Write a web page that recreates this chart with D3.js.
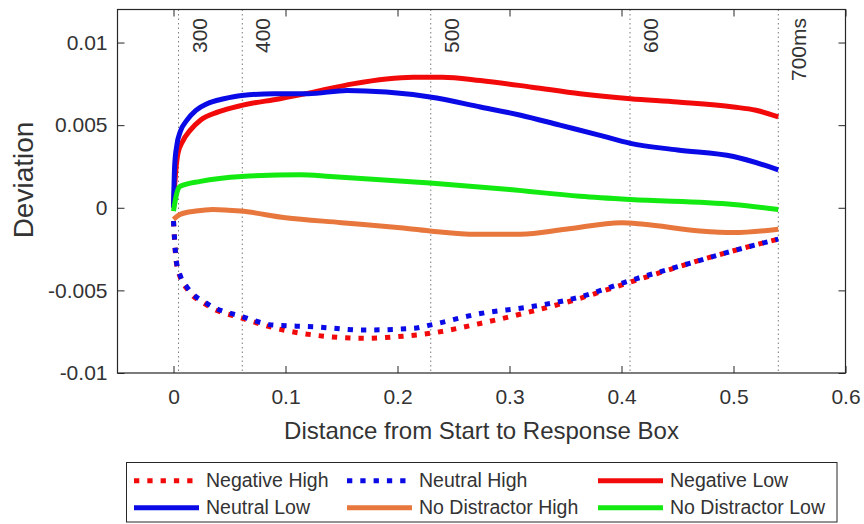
<!DOCTYPE html>
<html>
<head>
<meta charset="utf-8">
<script src="https://cdn.jsdelivr.net/npm/d3@7"></script>
<style>
  html, body { margin: 0; padding: 0; background: #fff; }
  svg { display: block; font-family: "Liberation Sans", Arial, Helvetica, sans-serif; }
</style>
</head>
<body>
<svg id="chart" width="864" height="524"></svg>
<script>
// Trajectory deviation along the path from start to response box
const xTicks = [0, 0.1, 0.2, 0.3, 0.4, 0.5, 0.6];
const yTicks = [-0.01, -0.005, 0, 0.005, 0.01];
const yTickLabels = ["-0.01", "-0.005", "0", "0.005", "0.01"];

// Time markers (ms) and where they fall along the path
const timeMarkX = [0.0045, 0.0614, 0.2297, 0.4076, 0.540];
const timeMarkLabels = ["300", "400", "500", "600", "700ms"];

// [distance, deviation] pairs per condition
const negativeHigh = [[0,-0.0008],[0.0025,-0.0033],[0.006,-0.0042],[0.012,-0.0049],[0.03,-0.0059],[0.062,-0.0067],[0.098,-0.0074],[0.125,-0.0077],[0.17,-0.0079],[0.2,-0.0078],[0.229,-0.0076],[0.274,-0.0070],[0.318,-0.0063],[0.357,-0.0056],[0.408,-0.0045],[0.464,-0.0033],[0.5,-0.0026],[0.54,-0.0019]];
const neutralHigh = [[0,-0.0008],[0.0025,-0.0032],[0.006,-0.0041],[0.012,-0.0048],[0.03,-0.0058],[0.062,-0.0066],[0.089,-0.0071],[0.125,-0.0072],[0.17,-0.0074],[0.214,-0.0073],[0.229,-0.0071],[0.274,-0.0064],[0.318,-0.0060],[0.357,-0.0055],[0.408,-0.0044],[0.464,-0.0033],[0.5,-0.0026],[0.54,-0.0019]];
const negativeLow = [[0,0.0002],[0.002,0.0022],[0.004,0.0033],[0.008,0.0040],[0.015,0.0047],[0.024,0.0053],[0.04,0.0058],[0.061,0.0062],[0.095,0.0066],[0.125,0.0070],[0.16,0.0075],[0.19,0.0078],[0.214,0.0079],[0.24,0.0079],[0.274,0.0077],[0.32,0.0073],[0.363,0.0069],[0.408,0.0066],[0.45,0.0064],[0.5,0.0061],[0.52,0.0059],[0.54,0.0055]];
const neutralLow = [[0,0.0000],[0.001,0.0025],[0.003,0.0038],[0.006,0.0046],[0.012,0.0053],[0.02,0.0059],[0.03,0.0063],[0.045,0.0066],[0.061,0.0068],[0.09,0.0069],[0.12,0.0069],[0.155,0.0071],[0.19,0.0070],[0.229,0.0067],[0.274,0.0061],[0.31,0.0056],[0.345,0.0050],[0.38,0.0044],[0.408,0.0039],[0.45,0.0035],[0.5,0.0031],[0.54,0.0023]];
const noDistractorHigh = [[0,-0.0007],[0.006,-0.0004],[0.02,-0.0002],[0.035,-0.0001],[0.06,-0.0002],[0.1,-0.0006],[0.15,-0.0009],[0.2,-0.0012],[0.229,-0.0014],[0.27,-0.0016],[0.31,-0.0016],[0.35,-0.0013],[0.4,-0.0009],[0.42,-0.0010],[0.47,-0.0014],[0.5,-0.0015],[0.54,-0.0013]];
const noDistractorLow = [[0,-0.0002],[0.003,0.0009],[0.006,0.0013],[0.024,0.0016],[0.061,0.0019],[0.113,0.0020],[0.14,0.0019],[0.229,0.0015],[0.3,0.0011],[0.363,0.0007],[0.408,0.0005],[0.5,0.0002],[0.54,-0.0001]];

const seriesNames = ["Negative High", "Neutral High", "Negative Low", "Neutral Low", "No Distractor High", "No Distractor Low"];
const seriesData = [negativeHigh, neutralHigh, negativeLow, neutralLow, noDistractorHigh, noDistractorLow];
const seriesColors = ["#f20a0a", "#0a0ae6", "#f20a0a", "#0a0ae6", "#e8773d", "#12ea12"];
const seriesDotted = [true, true, false, false, false, false];

const svg = d3.select("#chart");
const axisColor = "#262626";
const textColor = "#333333";
const plotLeft = 117.5, plotRight = 845.5, plotTop = 9.5, plotBottom = 373;

const x = d3.scaleLinear().domain([-0.05, 0.6]).range([plotLeft, plotRight]);
const y = d3.scaleLinear().domain([-0.01, 0.012]).range([plotBottom, plotTop]);

// time marker lines
const marks = svg.append("g");
timeMarkX.forEach((v, i) => {
  marks.append("line")
    .attr("x1", x(v)).attr("x2", x(v))
    .attr("y1", plotTop).attr("y2", plotBottom)
    .attr("stroke", "#7a7a7a").attr("stroke-width", 1)
    .attr("stroke-dasharray", "1.5,3");
  marks.append("text")
    .attr("transform", `translate(${x(v) + 28},18) rotate(-90)`)
    .attr("text-anchor", "end")
    .attr("font-size", 21)
    .attr("fill", textColor)
    .text(timeMarkLabels[i]);
});

// curves
const line = d3.line()
  .x(d => x(d[0])).y(d => y(d[1]))
  .curve(d3.curveMonotoneX);

const curves = svg.append("g").attr("fill", "none");
seriesData.forEach((data, i) => {
  curves.append("path")
    .attr("d", line(data))
    .attr("stroke", seriesColors[i])
    .attr("stroke-width", 5)
    .attr("stroke-dasharray", seriesDotted[i] ? "5.3,8" : null)
    .attr("stroke-linejoin", "round");
});

// axes box with inward ticks on all four sides
const tickLen = 7;
const gx = svg.append("g").attr("transform", `translate(0,${plotBottom})`)
  .call(d3.axisBottom(x).tickValues(xTicks).tickSize(-tickLen).tickPadding(16)
    .tickFormat(d3.format("")));
gx.select(".domain").remove();
gx.selectAll("text").attr("font-size", 21).attr("fill", textColor).attr("font-family", null);
gx.selectAll("line").attr("stroke", axisColor);

const gxt = svg.append("g").attr("transform", `translate(0,${plotTop})`)
  .call(d3.axisTop(x).tickValues(xTicks).tickSize(-tickLen).tickFormat(""));
gxt.select(".domain").remove();
gxt.selectAll("line").attr("stroke", axisColor);

const gy = svg.append("g").attr("transform", `translate(${plotLeft},0)`)
  .call(d3.axisLeft(y).tickValues(yTicks).tickSize(-tickLen).tickPadding(10)
    .tickFormat((d, i) => yTickLabels[i]));
gy.select(".domain").remove();
gy.selectAll("text").attr("font-size", 21).attr("fill", textColor).attr("font-family", null);
gy.selectAll("line").attr("stroke", axisColor);

const gyr = svg.append("g").attr("transform", `translate(${plotRight},0)`)
  .call(d3.axisRight(y).tickValues(yTicks).tickSize(-tickLen).tickFormat(""));
gyr.select(".domain").remove();
gyr.selectAll("line").attr("stroke", axisColor);

svg.append("rect")
  .attr("x", plotLeft).attr("y", plotTop)
  .attr("width", plotRight - plotLeft).attr("height", plotBottom - plotTop)
  .attr("fill", "none").attr("stroke", axisColor).attr("stroke-width", 1.2);

// axis titles
svg.append("text")
  .attr("x", (plotLeft + plotRight) / 2).attr("y", 439)
  .attr("text-anchor", "middle").attr("font-size", 24).attr("fill", textColor)
  .text("Distance from Start to Response Box");
svg.append("text")
  .attr("transform", `translate(33,180) rotate(-90)`)
  .attr("text-anchor", "middle").attr("font-size", 28).attr("fill", textColor)
  .text("Deviation");

// legend
const legend = svg.append("g");
legend.append("rect")
  .attr("x", 126.5).attr("y", 462.5).attr("width", 710.5).attr("height", 59.5)
  .attr("fill", "#fff").attr("stroke", axisColor).attr("stroke-width", 1);
const colX = [134, 347, 598];
const rowY = [480.7, 507.7];
seriesNames.forEach((name, i) => {
  const cx = colX[i % 3], cy = rowY[Math.floor(i / 3)];
  legend.append("line")
    .attr("x1", cx).attr("x2", cx + 65).attr("y1", cy).attr("y2", cy)
    .attr("stroke", seriesColors[i]).attr("stroke-width", 5)
    .attr("stroke-dasharray", seriesDotted[i] ? "5.3,8" : null);
  legend.append("text")
    .attr("x", cx + 72).attr("y", cy + 6.5)
    .attr("font-size", 19.5).attr("fill", textColor)
    .text(name);
});
</script>
</body>
</html>
